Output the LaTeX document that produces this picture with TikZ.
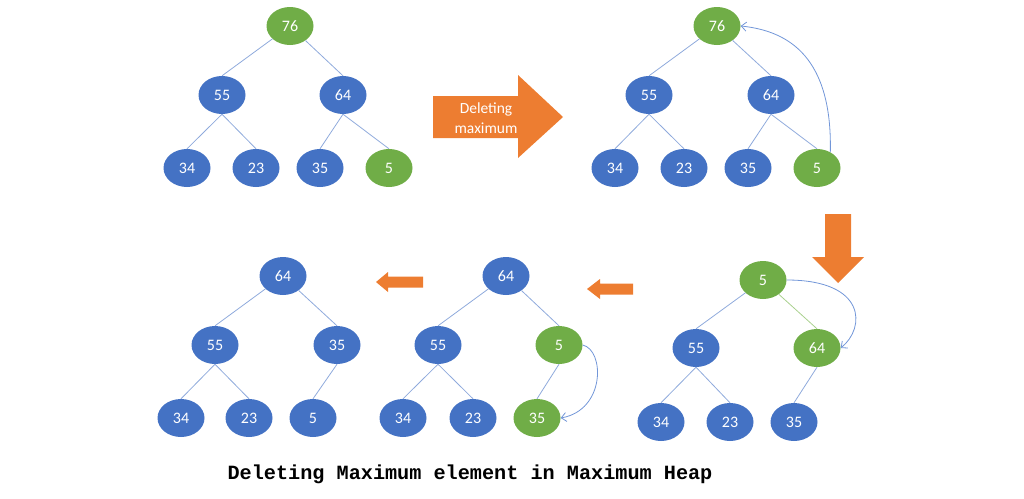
\documentclass[tikz,border=0pt]{standalone}
\usepackage{fontspec}
\setmainfont{Carlito}
\newfontfamily\capfont{Liberation Mono}
\usetikzlibrary{arrows.meta,shapes.geometric}
\definecolor{heapblue}{HTML}{4472C4}
\definecolor{heapgreen}{HTML}{70AD47}
\definecolor{heaporange}{HTML}{ED7D31}
\definecolor{linkblue}{HTML}{8FAADC}
\definecolor{linkgreen}{HTML}{A9D18E}
\definecolor{swapblue}{HTML}{7296D8}
\tikzset{hnode/.style={ellipse,minimum width=47pt,minimum height=38pt,inner sep=0pt,text=white,font=\fontsize{16}{19}\selectfont}}
\tikzset{bnode/.style={hnode,fill=heapblue}}
\tikzset{gnode/.style={hnode,fill=heapgreen}}
\tikzset{link/.style={draw=linkblue,line width=0.8pt}}
\tikzset{swap/.style={draw=swapblue,line width=0.8pt,-{Straight Barb[length=5pt,width=9pt]}}}

\begin{document}
\begin{tikzpicture}[x=1pt,y=-1pt]
\useasboundingbox (0,0) rectangle (1024,498);
% first heap
\node (a76) [gnode] at (290,26) {76};
\node (a55) [bnode] at (222,95) {55};
\node (a64) [bnode] at (343,95) {64};
\node (a34) [bnode] at (187,168) {34};
\node (a23) [bnode] at (256,168) {23};
\node (a35) [bnode] at (320,168) {35};
\node (a5) [gnode] at (389,168) {5};
%
\path[link] (a76) edge (a55.north) (a76) edge (a64.north);
\path[link] (a55.south) edge (a34.north) (a55.south) edge (a23.north);
\path[link] (a64.south) edge (a35.north) (a64.south) edge (a5.north);
% arrow
\fill[heaporange] (433,96) -- (518,96) -- (518,75) -- (563,117) -- (518,158) -- (518,138) -- (433,138) -- cycle;
\node (del) [text=white,align=center,font=\fontsize{15.5}{20}\selectfont] at (486,118) {Deleting\\maximum};
% second heap
\node (b76) [gnode] at (717,26) {76};
\node (b55) [bnode] at (649,95) {55};
\node (b64) [bnode] at (771,95) {64};
\node (b34) [bnode] at (615,168) {34};
\node (b23) [bnode] at (684,168) {23};
\node (b35) [bnode] at (748,168) {35};
\node (b5) [gnode] at (817,168) {5};
%
\path[link] (b76) edge (b55.north) (b76) edge (b64.north);
\path[link] (b55.south) edge (b34.north) (b55.south) edge (b23.north);
\path[link] (b64.south) edge (b35.north) (b64.south) edge (b5.north);
\draw[swap] (b5.50) .. controls +(2,-94) and +(49,5) .. (b76.east);
% down arrow
\fill[heaporange] (825,214) -- (851,214) -- (851,257) -- (864,257) -- (838,283) -- (812,257) -- (825,257) -- cycle;
% third heap
\node (c5) [gnode] at (763,280) {5};
\node (c55) [bnode] at (696,348) {55};
\node (c64) [gnode] at (817,348) {64};
\node (c34) [bnode] at (661,422) {34};
\node (c23) [bnode] at (730,422) {23};
\node (c35) [bnode] at (794,422) {35};
%
\path[link] (c5) edge (c55.north);
\path[link,draw=linkgreen] (c5) edge (c64.north);
\path[link] (c55.south) edge (c34.north) (c55.south) edge (c23.north);
\path[link] (c64.south) edge (c35.north);
\draw[swap] (c5.east) .. controls +(80,0) and +(25,-20) .. (c64.east);
% left arrows
\fill[heaporange] (633,283.5) -- (600,283.5) -- (600,279) -- (587,289) -- (600,299) -- (600,294.5) -- (633,294.5) -- cycle;
\fill[heaporange] (423,276.5) -- (388,276.5) -- (388,272) -- (376,282) -- (388,292) -- (388,287.5) -- (423,287.5) -- cycle;
% fourth heap
\node (d64) [bnode] at (506,276) {64};
\node (d55) [bnode] at (438,345) {55};
\node (d5) [gnode] at (559,345) {5};
\node (d34) [bnode] at (403,418) {34};
\node (d23) [bnode] at (473,418) {23};
\node (d35) [gnode] at (537,418) {35};
%
\path[link] (d64) edge (d55.north) (d64) edge (d5.north);
\path[link] (d55.south) edge (d34.north) (d55.south) edge (d23.north);
\path[link] (d5.south) edge (d35.north);
\draw[swap] (d5.east) .. controls +(22,5) and +(45,-8) .. (d35.east);
% fifth heap
\node (e64) [bnode] at (283,276) {64};
\node (e55) [bnode] at (215,345) {55};
\node (e35) [bnode] at (337,345) {35};
\node (e34) [bnode] at (181,418) {34};
\node (e23) [bnode] at (249,418) {23};
\node (e5) [bnode] at (313,418) {5};
%
\path[link] (e64) edge (e55.north) (e64) edge (e35.north);
\path[link] (e55.south) edge (e34.north) (e55.south) edge (e23.north);
\path[link] (e35.south) edge (e5.north);
% caption
\node (cap) [font={\capfont\bfseries\fontsize{20.2}{22}\selectfont}] at (470,474) {Deleting Maximum element in Maximum Heap};
\end{tikzpicture}
\end{document}
